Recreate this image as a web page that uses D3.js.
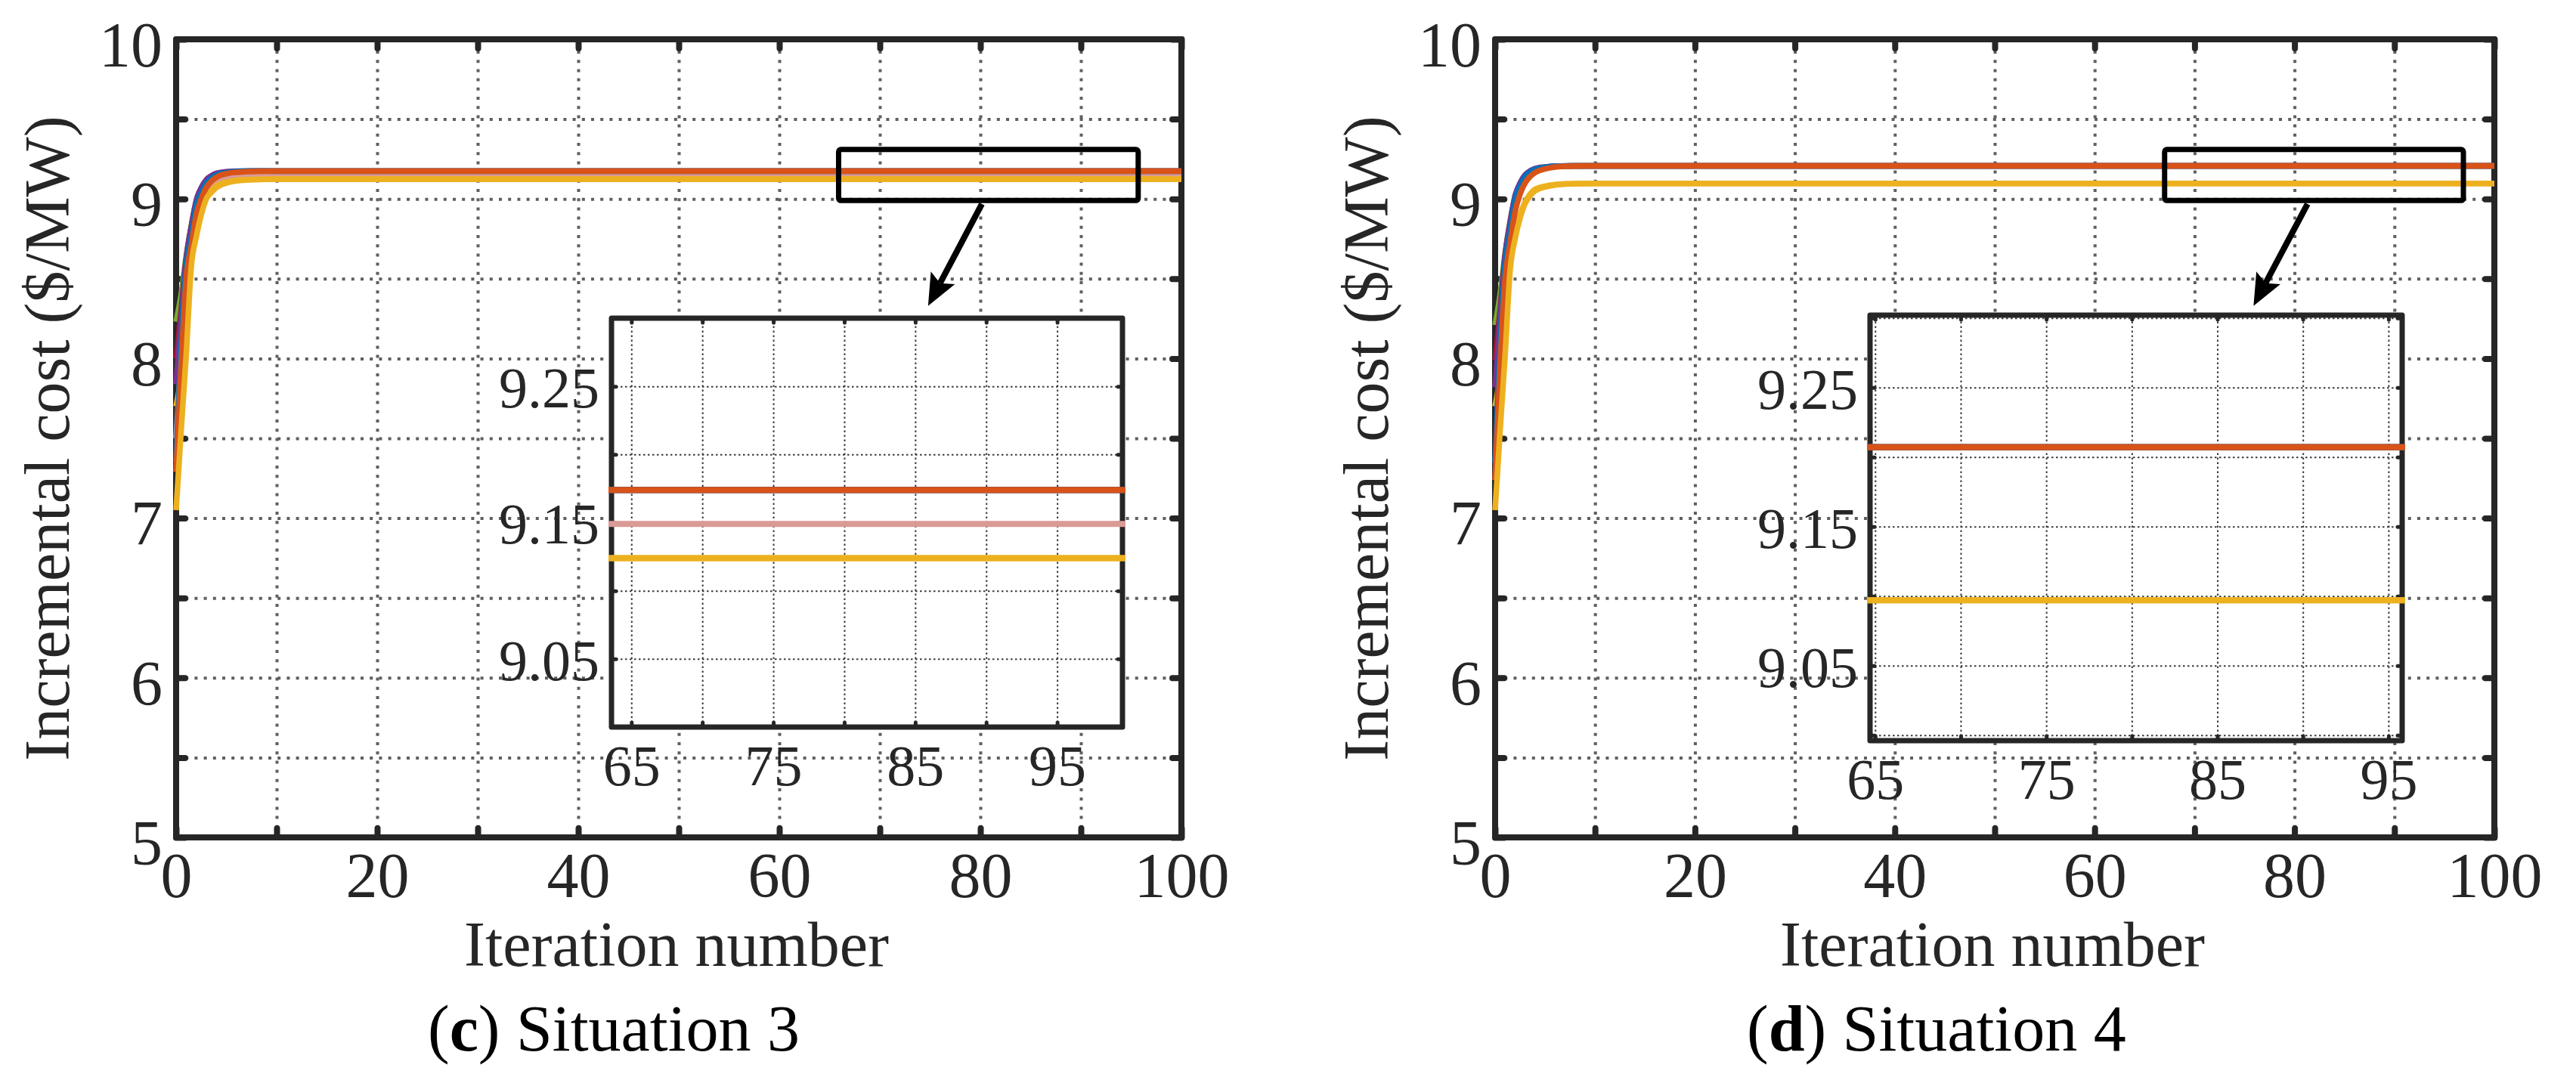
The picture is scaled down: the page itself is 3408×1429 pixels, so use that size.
<!DOCTYPE html>
<html>
<head>
<meta charset="utf-8">
<script src="https://cdn.jsdelivr.net/npm/d3@7"></script>
<style>
  body { margin: 0; background: #fff; }
  svg text { font-family: "Liberation Serif", "Times New Roman", serif; fill: #262626; }
</style>
</head>
<body>
<svg id="chart"></svg>
<script>
// iteration positions at which the curves were read
const iterations = [0, 0.5, 1, 1.5, 2, 2.5, 3, 3.5, 4, 5, 6, 7, 8, 10, 15, 100];

// (c) Situation 3 - incremental cost of each unit ($/MW)
const s3Green   = [8.23, 8.40, 8.64, 8.83, 8.98, 9.06, 9.11, 9.14, 9.155, 9.168, 9.172, 9.173, 9.174, 9.174, 9.174, 9.174];
const s3DarkRed = [8.00, 8.30, 8.62, 8.82, 8.97, 9.05, 9.10, 9.135, 9.152, 9.166, 9.171, 9.173, 9.174, 9.174, 9.174, 9.174];
const s3Purple  = [7.84, 8.25, 8.62, 8.82, 8.99, 9.07, 9.12, 9.145, 9.16, 9.17, 9.174, 9.174, 9.174, 9.174, 9.174, 9.174];
const s3Pink    = [7.50, 8.00, 8.45, 8.70, 8.88, 8.98, 9.05, 9.09, 9.11, 9.13, 9.14, 9.145, 9.147, 9.149, 9.149, 9.149];
const s3Yellow2 = [7.70, 7.90, 8.30, 8.60, 8.80, 8.93, 9.01, 9.05, 9.08, 9.104, 9.115, 9.12, 9.122, 9.124, 9.124, 9.124];
const s3Blue    = [7.35, 8.10, 8.58, 8.76, 8.96, 9.04, 9.10, 9.13, 9.15, 9.165, 9.172, 9.175, 9.175, 9.174, 9.174, 9.174];
const s3Orange  = [7.29, 7.95, 8.50, 8.70, 8.90, 9.00, 9.07, 9.11, 9.135, 9.158, 9.167, 9.171, 9.173, 9.174, 9.174, 9.174];
const s3Yellow  = [7.05, 7.55, 8.02, 8.57, 8.76, 8.90, 9.00, 9.04, 9.07, 9.10, 9.113, 9.119, 9.122, 9.124, 9.124, 9.124];

// (d) Situation 4
const s4Green   = [8.21, 8.40, 8.66, 8.86, 9.01, 9.09, 9.14, 9.17, 9.185, 9.20, 9.205, 9.206, 9.207, 9.207, 9.207, 9.207];
const s4DarkRed = [7.99, 8.30, 8.64, 8.84, 9.00, 9.08, 9.13, 9.165, 9.182, 9.198, 9.204, 9.206, 9.207, 9.207, 9.207, 9.207];
const s4Purple  = [7.82, 8.25, 8.64, 8.85, 9.02, 9.10, 9.15, 9.175, 9.19, 9.20, 9.205, 9.207, 9.207, 9.207, 9.207, 9.207];
const s4Yellow2 = [7.70, 7.90, 8.30, 8.60, 8.78, 8.90, 8.98, 9.03, 9.06, 9.08, 9.09, 9.094, 9.096, 9.097, 9.097, 9.097];
const s4Blue    = [7.35, 8.10, 8.60, 8.80, 9.00, 9.08, 9.14, 9.17, 9.185, 9.198, 9.204, 9.206, 9.207, 9.207, 9.207, 9.207];
const s4Orange  = [7.24, 7.95, 8.50, 8.72, 8.92, 9.03, 9.10, 9.14, 9.165, 9.188, 9.20, 9.204, 9.206, 9.207, 9.207, 9.207];
const s4Yellow  = [7.05, 7.55, 8.02, 8.55, 8.75, 8.88, 8.97, 9.02, 9.05, 9.075, 9.087, 9.093, 9.095, 9.097, 9.097, 9.097];

// ticks and grid
const xTickLabels = [0, 20, 40, 60, 80, 100];
const yTickLabels = [5, 6, 7, 8, 9, 10];
const xGrid = [0, 10, 20, 30, 40, 50, 60, 70, 80, 90, 100];
const yGrid = [5, 5.5, 6, 6.5, 7, 7.5, 8, 8.5, 9, 9.5, 10];
const insetXTickLabels = [65, 75, 85, 95];
const insetXGrid = [65, 70, 75, 80, 85, 90, 95];
const insetYTickLabels = [9.05, 9.15, 9.25];
const insetYGrid = [9.0, 9.05, 9.1, 9.15, 9.2, 9.25, 9.3];

// zoom rectangles [x0, x1, y0, y1] and arrows [x0, y0, x1, y1], in data units
const zoomBox3 = [65.9, 95.7, 8.99, 9.31];
const zoomBox4 = [67.0, 96.9, 8.99, 9.31];
const arrow3 = [80.15, 8.968, 74.8, 8.33];
const arrow4 = [81.3, 8.968, 75.9, 8.33];

const colors = {
  blue: "#0072BD", orange: "#D95319", yellow: "#EDB120", purple: "#7E2F8E",
  green: "#77AC30", darkred: "#A2142F", pink: "#DA9A96"
};

const W = 3408, H = 1429;
const ink = "#262626";
const fontMain = 84, fontInset = 76;

const svg = d3.select("#chart")
  .attr("width", W)
  .attr("height", H)
  .attr("viewBox", `0 0 ${W} ${H}`);

const panels = [
  {
    tag: "c", title: " Situation 3",
    left: 233, right: 1563, top: 52, bottom: 1108,
    series: [
      [s3Green, colors.green], [s3DarkRed, colors.darkred], [s3Purple, colors.purple],
      [s3Pink, colors.pink], [s3Yellow2, colors.yellow], [s3Blue, colors.blue],
      [s3Orange, colors.orange], [s3Yellow, colors.yellow]
    ],
    inset: { left: 809, right: 1485, top: 421, bottom: 962, xDomain: [63.6, 99.6], yDomain: [9.0, 9.3] },
    box: zoomBox3, arrow: arrow3
  },
  {
    tag: "d", title: " Situation 4",
    left: 1978, right: 3300, top: 52, bottom: 1108,
    series: [
      [s4Green, colors.green], [s4DarkRed, colors.darkred], [s4Purple, colors.purple],
      [s4Yellow2, colors.yellow], [s4Blue, colors.blue],
      [s4Orange, colors.orange], [s4Yellow, colors.yellow]
    ],
    inset: { left: 2474, right: 3178, top: 417, bottom: 980, xDomain: [64.7, 95.8], yDomain: [8.996, 9.302] },
    box: zoomBox4, arrow: arrow4
  }
];

// style helpers for d3 axes
function styleGrid(g, color, width, dash) {
  g.select(".domain").remove();
  g.selectAll(".tick line")
    .attr("stroke", color)
    .attr("stroke-width", width)
    .attr("stroke-dasharray", dash);
}

function styleTicks(g, width) {
  g.select(".domain").remove();
  g.selectAll(".tick text").remove();
  g.selectAll(".tick line")
    .attr("stroke", ink)
    .attr("stroke-width", width)
    .attr("stroke-linecap", "round");
}

// d3 axes put a sans-serif font on the group, drop it so the css font is used
function styleLabels(g, size) {
  g.attr("font-family", null).attr("font-size", null);
  g.select(".domain").remove();
  g.selectAll(".tick line").remove();
  g.selectAll("text")
    .attr("fill", ink)
    .style("font-family", '"Liberation Serif", "Times New Roman", serif')
    .style("font-size", size + "px");
}

function drawBox(g, x, y, tickLen, tickWidth, frameWidth, xt, yt) {
  const [x0, x1] = x.range();
  const [y0, y1] = y.range();
  g.append("rect")
    .attr("x", x0).attr("y", y1)
    .attr("width", x1 - x0).attr("height", y0 - y1)
    .attr("fill", "none")
    .attr("stroke", ink)
    .attr("stroke-width", frameWidth)
    .attr("stroke-linejoin", "round");

  g.append("g").attr("transform", `translate(0,${y0})`)
    .call(d3.axisBottom(x).tickValues(xt).tickSize(-tickLen)).call(styleTicks, tickWidth);
  g.append("g").attr("transform", `translate(0,${y1})`)
    .call(d3.axisTop(x).tickValues(xt).tickSize(-tickLen)).call(styleTicks, tickWidth);
  g.append("g").attr("transform", `translate(${x0},0)`)
    .call(d3.axisLeft(y).tickValues(yt).tickSize(-tickLen)).call(styleTicks, tickWidth);
  g.append("g").attr("transform", `translate(${x1},0)`)
    .call(d3.axisRight(y).tickValues(yt).tickSize(-tickLen)).call(styleTicks, tickWidth);
}

panels.forEach((p, pi) => {
  const g = svg.append("g");

  const x = d3.scaleLinear().domain([0, 100]).range([p.left, p.right]);
  const y = d3.scaleLinear().domain([5, 10]).range([p.bottom, p.top]);

  // dotted grid
  g.append("g").attr("transform", `translate(0,${p.bottom})`)
    .call(d3.axisBottom(x).tickValues(xGrid).tickSize(-(p.bottom - p.top)).tickFormat(""))
    .call(styleGrid, "#5f5f5f", 4, "4,8.2");
  g.append("g").attr("transform", `translate(${p.left},0)`)
    .call(d3.axisLeft(y).tickValues(yGrid).tickSize(-(p.right - p.left)).tickFormat(""))
    .call(styleGrid, "#5f5f5f", 4, "4,8.2");

  drawBox(g, x, y, 12, 8, 8, xGrid, yGrid);

  // tick labels
  g.append("g").attr("transform", `translate(0,${p.bottom})`)
    .call(d3.axisBottom(x).tickValues(xTickLabels).tickSize(0).tickFormat(d3.format("d")))
    .call(styleLabels, fontMain)
    .selectAll("text").attr("y", 79).attr("dy", null);

  g.append("g").attr("transform", `translate(${p.left},0)`)
    .call(d3.axisLeft(y).tickValues(yTickLabels).tickSize(0).tickPadding(18).tickFormat(d3.format("d")))
    .call(styleLabels, fontMain)
    .selectAll("text").attr("dy", "0.42em");

  // curves
  const line = d3.line()
    .x((d, i) => x(iterations[i]))
    .y(d => y(d))
    .curve(d3.curveMonotoneX);

  g.append("g").selectAll("path")
    .data(p.series)
    .join("path")
    .attr("d", d => line(d[0]))
    .attr("fill", "none")
    .attr("stroke", d => d[1])
    .attr("stroke-width", 7.5)
    .attr("stroke-linejoin", "round");

  // zoom rectangle and arrow
  const [bx0, bx1, by0, by1] = p.box;
  g.append("rect")
    .attr("x", x(bx0)).attr("y", y(by1))
    .attr("width", x(bx1) - x(bx0)).attr("height", y(by0) - y(by1))
    .attr("rx", 3)
    .attr("fill", "none")
    .attr("stroke", "#000")
    .attr("stroke-width", 7);

  const [ax0, ay0, ax1, ay1] = p.arrow;
  const sx = x(ax0), sy = y(ay0), tx = x(ax1), ty = y(ay1);
  const len = Math.hypot(tx - sx, ty - sy);
  const ux = (tx - sx) / len, uy = (ty - sy) / len;
  const headL = 42, headW = 18;
  const bxh = tx - ux * headL, byh = ty - uy * headL;
  g.append("line")
    .attr("x1", sx).attr("y1", sy)
    .attr("x2", bxh + ux * 8).attr("y2", byh + uy * 8)
    .attr("stroke", "#000")
    .attr("stroke-width", 8);
  g.append("path")
    .attr("d", `M${tx},${ty}L${bxh - uy * headW},${byh + ux * headW}L${bxh + ux * 8},${byh + uy * 8}L${bxh + uy * headW},${byh - ux * headW}Z`)
    .attr("fill", "#000");

  // inset
  const ins = p.inset;
  const xi = d3.scaleLinear().domain(ins.xDomain).range([ins.left, ins.right]);
  const yi = d3.scaleLinear().domain(ins.yDomain).range([ins.bottom, ins.top]);
  const gi = g.append("g");

  gi.append("rect")
    .attr("x", ins.left).attr("y", ins.top)
    .attr("width", ins.right - ins.left).attr("height", ins.bottom - ins.top)
    .attr("fill", "#fff");

  gi.append("g").attr("transform", `translate(0,${ins.bottom})`)
    .call(d3.axisBottom(xi).tickValues(insetXGrid).tickSize(-(ins.bottom - ins.top)).tickFormat(""))
    .call(styleGrid, "#3a3a3a", 2, "2.5,3.5");
  gi.append("g").attr("transform", `translate(${ins.left},0)`)
    .call(d3.axisLeft(yi).tickValues(insetYGrid).tickSize(-(ins.right - ins.left)).tickFormat(""))
    .call(styleGrid, "#3a3a3a", 2, "2.5,3.5");

  drawBox(gi, xi, yi, 6, 5, 7, insetXGrid, insetYGrid);

  const clipId = `inset-clip-${pi}`;
  svg.append("clipPath").attr("id", clipId)
    .append("rect")
    .attr("x", ins.left - 4).attr("y", ins.top)
    .attr("width", ins.right - ins.left + 8).attr("height", ins.bottom - ins.top);

  const lineInset = d3.line()
    .x((d, i) => xi(iterations[i]))
    .y(d => yi(d))
    .curve(d3.curveMonotoneX);

  gi.append("g").attr("clip-path", `url(#${clipId})`)
    .selectAll("path")
    .data(p.series)
    .join("path")
    .attr("d", d => lineInset(d[0]))
    .attr("fill", "none")
    .attr("stroke", d => d[1])
    .attr("stroke-width", 8)
    .attr("stroke-linecap", "round");

  gi.append("g").attr("transform", `translate(0,${ins.bottom})`)
    .call(d3.axisBottom(xi).tickValues(insetXTickLabels).tickSize(0).tickFormat(d3.format("d")))
    .call(styleLabels, fontInset)
    .selectAll("text").attr("y", 77).attr("dy", null);

  gi.append("g").attr("transform", `translate(${ins.left},0)`)
    .call(d3.axisLeft(yi).tickValues(insetYTickLabels).tickSize(0).tickPadding(16).tickFormat(d3.format(".2f")))
    .call(styleLabels, fontInset)
    .selectAll("text").attr("dy", "0.36em");

  // axis titles
  g.append("text")
    .attr("transform", `translate(${p.left - 142},${(p.top + p.bottom) / 2}) rotate(-90)`)
    .attr("text-anchor", "middle")
    .style("font-size", fontMain + "px")
    .text("Incremental cost ($/MW)");

  g.append("text")
    .attr("x", (p.left + p.right) / 2 - 3)
    .attr("y", 1278)
    .attr("text-anchor", "middle")
    .style("font-size", fontMain + "px")
    .text("Iteration number");

  // caption
  const cap = g.append("text")
    .attr("x", p.left + 333)
    .attr("y", 1390)
    .style("font-size", "86px")
    .style("fill", "#000");
  cap.append("tspan").text("(");
  cap.append("tspan").style("font-weight", "bold").text(p.tag);
  cap.append("tspan").text(")" + p.title);
});
</script>
</body>
</html>
